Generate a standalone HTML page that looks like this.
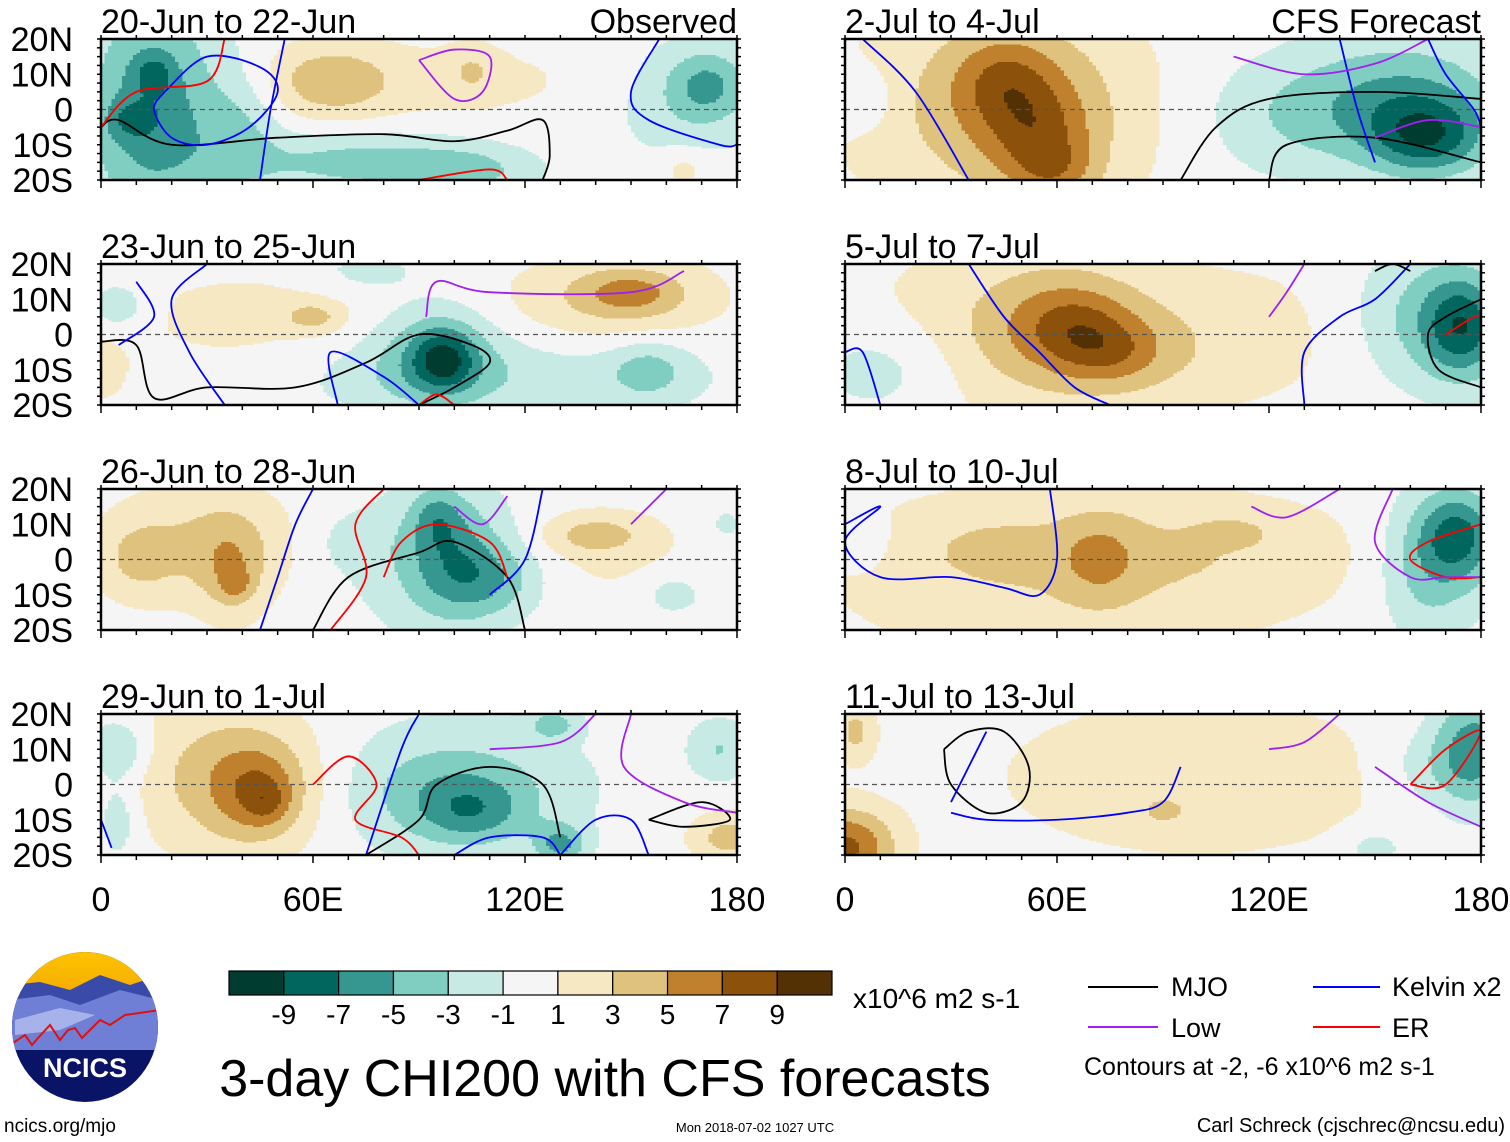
<!DOCTYPE html>
<html><head><meta charset="utf-8">
<style>
html,body{margin:0;padding:0;background:#fff;}
svg{display:block;font-family:"Liberation Sans Narrow","Liberation Sans",sans-serif;}
.w{font-family:"Liberation Sans",sans-serif;}
</style></head>
<body>
<svg id="root" width="1510" height="1142" viewBox="0 0 1510 1142" xmlns="http://www.w3.org/2000/svg">
<defs>
<linearGradient id="sky" x1="0" y1="0" x2="0" y2="1"><stop offset="0" stop-color="#ffc400"/><stop offset="1" stop-color="#f2a900"/></linearGradient>
<clipPath id="logoclip"><ellipse cx="85" cy="1027" rx="73" ry="75"/></clipPath>
</defs>
<g id="panels"></g>

<g clip-path="url(#logoclip)">
<rect x="10" y="950" width="150" height="160" fill="#0a1466"/>
<rect x="10" y="950" width="150" height="50" fill="url(#sky)"/>
<path d="M10 985 L40 982 L70 990 L100 975 L130 985 L160 975 L160 1050 L10 1050Z" fill="#3a4aa8"/>
<path d="M10 1000 L50 995 L80 1005 L120 990 L160 1000 L160 1050 L10 1050Z" fill="#6f7fd6"/>
<path d="M15 1020 L60 1008 L95 1015 L60 1030 L15 1035Z" fill="#a8b2ea"/>
<path d="M10 1045 L25 1035 L32 1045 L38 1038 L50 1025 L60 1040 L68 1030 L75 1028 L82 1038 L90 1030 L100 1020 L110 1025 L125 1015 L160 1010" fill="none" stroke="#e01010" stroke-width="2"/>
<text x="85" y="1077" text-anchor="middle" font-size="27" font-weight="bold" fill="#fff" class="w">NCICS</text>
</g>

<g id="cbar"></g>
<text x="853" y="1008" font-size="28">x10^6 m2 s-1</text>
<text x="605" y="1096" text-anchor="middle" font-size="52">3-day CHI200 with CFS forecasts</text>
<text x="4" y="1132" font-size="19">ncics.org/mjo</text>
<text x="755" y="1132" text-anchor="middle" font-size="13">Mon 2018-07-02 1027 UTC</text>
<text x="1505" y="1132" text-anchor="end" font-size="20">Carl Schreck (cjschrec@ncsu.edu)</text>

<g>
<g><line x1="1088" y1="987" x2="1158" y2="987" stroke="#000" stroke-width="2"/><text x="1171" y="996" font-size="27">MJO</text></g>
<g><line x1="1088" y1="1027" x2="1158" y2="1027" stroke="#a020f0" stroke-width="2"/><text x="1171" y="1037" font-size="27">Low</text></g>
<g><line x1="1313" y1="987" x2="1380" y2="987" stroke="#0000ff" stroke-width="2"/><text x="1392" y="996" font-size="27">Kelvin x2</text></g>
<g><line x1="1313" y1="1027" x2="1380" y2="1027" stroke="#ff0000" stroke-width="2"/><text x="1392" y="1037" font-size="27">ER</text></g>
<text x="1084" y="1075" font-size="25">Contours at -2, -6 x10^6 m2 s-1</text>
</g>
</svg>

<script>
// ---- data ----
const panelTitles = ["20-Jun to 22-Jun","23-Jun to 25-Jun","26-Jun to 28-Jun","29-Jun to 1-Jul","2-Jul to 4-Jul","5-Jul to 7-Jul","8-Jul to 10-Jul","11-Jul to 13-Jul"];
const panelTags = ["Observed","","","","CFS Forecast","","",""];
const latTicks = ["20N","10N","0","10S","20S"];
const latValues = [20,10,0,-10,-20];
const lonTicks = ["0","60E","120E","180"];
const lonValues = [0,60,120,180];
const cbarLabels = ["-9","-7","-5","-3","-1","1","3","5","7","9"];
const cbarColors = ["#003c30","#01665e","#35978f","#80cdc1","#c7eae5","#f5f5f5","#f6e8c3","#dfc27d","#bf812d","#8c510a","#543005"];
const levels = [-9,-7,-5,-3,-1,1,3,5,7,9];
// anomaly components (summed): [lon, lat, amplitude, sigmaLon, sigmaLat]
const blobs0 = [[15,0,-6.5,14,22],[15,10,-3,4,4],[8,-3,-2.5,5,4],[40,-5,-2.5,8,12],[75,-15,-4,25,6],[105,-18,-2.5,12,5],[65,8,3.5,12,7],[90,8,1.5,45,9],[105,11,2,5,5],[172,7,-4,8,7],[165,3,-2.5,15,12],[165,-17,2,5,4]];
const blobs1 = [[97,-7,-5,6,6],[95,-5,-4,12,10],[90,-12,-2,25,8],[155,-10,-3,8,6],[140,-12,-1.5,30,8],[150,12,3.5,10,4.5],[145,10,3,22,9],[60,5,3,6,3],[40,5,1.6,25,10],[5,8,-2.5,6,5],[0,-10,2.5,5,6],[75,18,-1.8,10,4]];
const blobs2 = [[38,-7,2.5,3,3],[37,-3,3,7,10],[30,5,3,18,12],[10,0,2.5,8,8],[100,0,-4,10,12],[112,-6,-3,10,7],[95,12,-3,5,6],[95,0,-2.5,18,15],[140,7,3.3,10,4],[140,0,1.2,25,12],[162,-10,-2.5,6,4],[177,10,-2,3,3],[70,5,-1.2,8,6]];
const blobs3 = [[47,-5,2,4,4],[45,-2,4,9,9],[40,0,3,18,15],[30,5,1.5,20,15],[105,-8,-3,10,6],[100,-3,-3,18,10],[100,0,-2,30,15],[130,-17,-5,5,4],[128,17,-3.5,5,3],[5,10,-3.5,6,6],[5,-10,-2.5,4,8],[178,-15,4,8,5],[175,10,-3,6,6]];
const blobs4 = [[45,8,3.5,10,9],[55,-8,3.5,10,10],[60,-18,2.5,8,6],[50,0,3.5,24,20],[35,0,1.5,35,22],[165,-8,-7,12,8],[160,5,-4,20,12],[130,-2,-3,20,12],[5,3,-2.5,6,6]];
const blobs5 = [[65,3,2.3,10,7],[75,-5,2.3,10,6],[60,5,2.8,18,12],[75,-5,2.3,20,10],[50,0,2,40,20],[175,2,-6.5,8,10],[165,5,-3.5,15,14],[10,-10,-2.5,15,10],[120,0,1.2,20,15]];
const blobs6 = [[72,0,2.5,8,9],[90,2,1.8,45,11],[40,3,1.2,12,6],[110,8,1.5,8,3],[60,-5,2,50,20],[174,7,-6,8,9],[168,0,-3,12,14],[163,-5,-1.5,8,14],[5,5,-1.8,5,5]];
const blobs7 = [[0,-18,7.5,10,8],[3,15,3.5,4,6],[100,2,2.5,40,16],[90,-8,1.5,5,3],[150,-18,-2.2,6,4],[178,10,-6,8,12],[165,5,-2,10,8]];
const allBlobs = [blobs0,blobs1,blobs2,blobs3,blobs4,blobs5,blobs6,blobs7];
// contours: [type, [lon,lat, lon,lat, ...]]
const contours0 = [["mjo",[0,-5,5,-3,20,-10,50,-8,80,-7,100,-9,115,-6,125,-3,127,-13,125,-20]],["kelvin",[18,5,30,15,45,12,50,5,42,-5,30,-10,20,-8,15,0,18,5]],["kelvin",[52,20,48,0,45,-20]],["er",[0,-5,10,5,30,8,35,20]],["er",[90,-20,110,-17,115,-20]],["low",[90,14,100,17,110,15,108,5,100,3,90,14]],["kelvin",[158,20,150,5,155,-3,175,-10,180,-10]]];
const contours1 = [["mjo",[0,-2,10,-3,15,-18,30,-15,55,-15,75,-8,90,0,105,-3,110,-8,100,-15,90,-20]],["kelvin",[30,20,20,10,25,-5,35,-20]],["kelvin",[90,-20,80,-12,65,-5,67,-20]],["er",[90,-20,95,-17,100,-20]],["low",[92,5,95,15,110,12,150,12,165,18]],["kelvin",[5,-3,15,5,10,15]]];
const contours2 = [["mjo",[60,-20,70,-5,90,2,100,5,115,-5,120,-20]],["kelvin",[45,-20,50,-5,55,10,60,20]],["er",[65,-20,75,-5,72,10,80,20]],["er",[80,-5,85,5,95,10,110,5,115,-5]],["low",[100,15,108,10,115,18]],["low",[150,10,160,20]],["kelvin",[110,-10,120,0,125,20]]];
const contours3 = [["mjo",[75,-20,90,-10,95,0,110,5,125,0,130,-15]],["mjo",[155,-10,165,-12,178,-10,170,-5,155,-10]],["er",[60,0,70,8,78,0,72,-10,85,-15,90,-20]],["kelvin",[75,-20,85,10,90,20]],["kelvin",[100,-20,110,-15,125,-15,130,-20]],["kelvin",[130,-20,140,-10,150,-10,155,-20]],["low",[110,10,130,12,140,20]],["low",[150,20,148,5,165,-5,180,-8]],["kelvin",[0,-10,3,-18]]];
const contours4 = [["mjo",[95,-20,105,-5,120,3,150,5,180,3]],["mjo",[120,-20,125,-10,150,-8,180,-15]],["kelvin",[5,20,20,5,35,-20]],["kelvin",[150,-15,145,0,140,20]],["kelvin",[165,20,170,10,178,0,180,-5]],["low",[110,15,130,10,150,13,165,20]],["low",[150,-8,165,-3,180,-5]]];
const contours5 = [["mjo",[180,10,170,5,165,0,168,-10,180,-15]],["kelvin",[35,20,45,5,55,-5,65,-15,75,-20]],["kelvin",[130,-20,130,-5,140,5,150,10,160,20]],["kelvin",[0,-5,5,-5,10,-20]],["er",[170,0,178,5,180,5]],["low",[120,5,125,12,130,20]],["mjo",[150,18,155,20,160,18]]];
const contours6 = [["kelvin",[0,10,10,15,0,5,10,-5,30,-5,45,-8,55,-10,60,0,58,20]],["er",[180,-5,170,-5,160,0,165,5,180,10]],["low",[155,20,150,5,160,-5,170,-5,180,-5]],["low",[115,15,125,12,140,20]]];
const contours7 = [["mjo",[28,10,35,15,45,15,52,5,50,-5,40,-8,30,0,28,10]],["kelvin",[30,-8,40,-10,60,-10,80,-8,90,-5,95,5]],["kelvin",[40,15,35,5,30,-5]],["er",[160,0,170,10,180,15,170,0,160,0]],["low",[150,5,165,-5,180,-12]],["low",[120,10,130,12,140,20]]];
const allContours = [contours0,contours1,contours2,contours3,contours4,contours5,contours6,contours7];

// ---- layout ----
const NS="http://www.w3.org/2000/svg";
const colX=[101,845], rowY=[39,264,489,714], PW=636, PH=141;
const contourColor={mjo:"#000",kelvin:"#0000ff",low:"#a020f0",er:"#ff0000"};
function mk(tag,attrs,parent){const e=document.createElementNS(NS,tag);for(const k in attrs)e.setAttribute(k,attrs[k]);if(parent)parent.appendChild(e);return e;}
function colorIndex(v){let i=0;while(i<levels.length&&v>levels[i])i++;return i;}
function fieldValue(bl,lon,lat){let s=0;for(const b of bl){const dx=(lon-b[0])/b[3],dy=(lat-b[1])/b[4];s+=b[2]*Math.exp(-0.5*(dx*dx+dy*dy));}return s;}
const panelsG=document.getElementById('panels');
const DLON=1, DLAT=0.5;
for(let p=0;p<8;p++){
  const c=Math.floor(p/4), r=p%4, x0=colX[c], y0=rowY[r];
  const xs=lon=>x0+lon/180*PW, ys=lat=>y0+(20-lat)/40*PH;
  const g=mk('g',{},panelsG);
  
  
  const cp=mk('clipPath',{id:'clip'+p},g);
  mk('rect',{x:x0,y:y0,width:PW,height:PH},cp);
  const field=mk('g',{'clip-path':'url(#clip'+p+')','shape-rendering':'crispEdges'},g);
  
  
  const bl=allBlobs[p];
  for(let lat=20;lat>-20;lat-=DLAT){
    const cl=lat-DLAT/2;
    let runStart=0, runCol=-1;
    for(let lon=0;lon<=180;lon+=DLON){
      const ci = lon<180 ? colorIndex(fieldValue(bl,lon+DLON/2,cl)) : -2;
      if(ci!==runCol){
        if(runCol>=0){
          const cell=mk('rect',{x:xs(runStart),y:ys(lat),width:xs(lon)-xs(runStart)+0.6,height:ys(lat-DLAT)-ys(lat)+0.6,fill:cbarColors[runCol]},field);
          
          
        }
        runStart=lon; runCol=ci;
      }
    }
  }
  mk('line',{x1:x0,y1:ys(0),x2:x0+PW,y2:ys(0),stroke:'#555','stroke-width':1.2,'stroke-dasharray':'5,4'},g);
  for(const ct of allContours[p]){
    const pts=ct[1]; let d='';
    const P=[];for(let i=0;i<pts.length;i+=2)P.push([xs(pts[i]),ys(pts[i+1])]);
    d='M'+P[0][0]+' '+P[0][1];
    for(let i=0;i<P.length-1;i++){const p0=P[Math.max(i-1,0)],p1=P[i],p2=P[i+1],p3=P[Math.min(i+2,P.length-1)];
      d+=' C'+(p1[0]+(p2[0]-p0[0])/6)+' '+(p1[1]+(p2[1]-p0[1])/6)+' '+(p2[0]-(p3[0]-p1[0])/6)+' '+(p2[1]-(p3[1]-p1[1])/6)+' '+p2[0]+' '+p2[1];}
    const pe=mk('path',{d:d,fill:'none',stroke:contourColor[ct[0]],'stroke-width':1.8,'clip-path':'url(#clip'+p+')'},g);
    
    
  }
  mk('rect',{x:x0,y:y0,width:PW,height:PH,fill:'none',stroke:'#000','stroke-width':2.5},g);
  for(let lon=0;lon<=180;lon+=10){const L=lon%60===0?8:5;
    mk('line',{x1:xs(lon),y1:y0+PH,x2:xs(lon),y2:y0+PH+L,stroke:'#000','stroke-width':1.5},g);
    mk('line',{x1:xs(lon),y1:y0,x2:xs(lon),y2:y0-4,stroke:'#000','stroke-width':1.5},g);}
  for(let lat=-20;lat<=20;lat+=2.5){
    mk('line',{x1:x0-4,y1:ys(lat),x2:x0,y2:ys(lat),stroke:'#000','stroke-width':1.5},g);
    mk('line',{x1:x0+PW,y1:ys(lat),x2:x0+PW+4,y2:ys(lat),stroke:'#000','stroke-width':1.5},g);}
  const tt=mk('text',{x:x0,y:y0-6,'font-size':34},g);tt.textContent=panelTitles[p];
  
  
  if(panelTags[p]){const tg=mk('text',{x:x0+PW,y:y0-6,'font-size':34,'text-anchor':'end'},g);tg.textContent=panelTags[p];
    
    }
  if(c===0){latValues.forEach((lv,i)=>{const t=mk('text',{x:73,y:ys(lv)+12,'font-size':34,'text-anchor':'end'},g);t.textContent=latTicks[i];
    
    });}
  if(r===3){lonValues.forEach((lv,i)=>{const t=mk('text',{x:xs(lv),y:911,'font-size':34,'text-anchor':'middle'},g);t.textContent=lonTicks[i];
    
    });}
}
const cb=document.getElementById('cbar'); const cbx=229,cbw=603/11;
cbarColors.forEach((col,i)=>{const r=mk('rect',{x:cbx+i*cbw,y:971,width:cbw,height:24,fill:col,stroke:'#000','stroke-width':1.2},cb);
  
  });
cbarLabels.forEach((l,i)=>{const t=mk('text',{x:cbx+(i+1)*cbw,y:1024,'font-size':28,'text-anchor':'middle'},cb);t.textContent=l;
  
  });
</script>
</body></html>
